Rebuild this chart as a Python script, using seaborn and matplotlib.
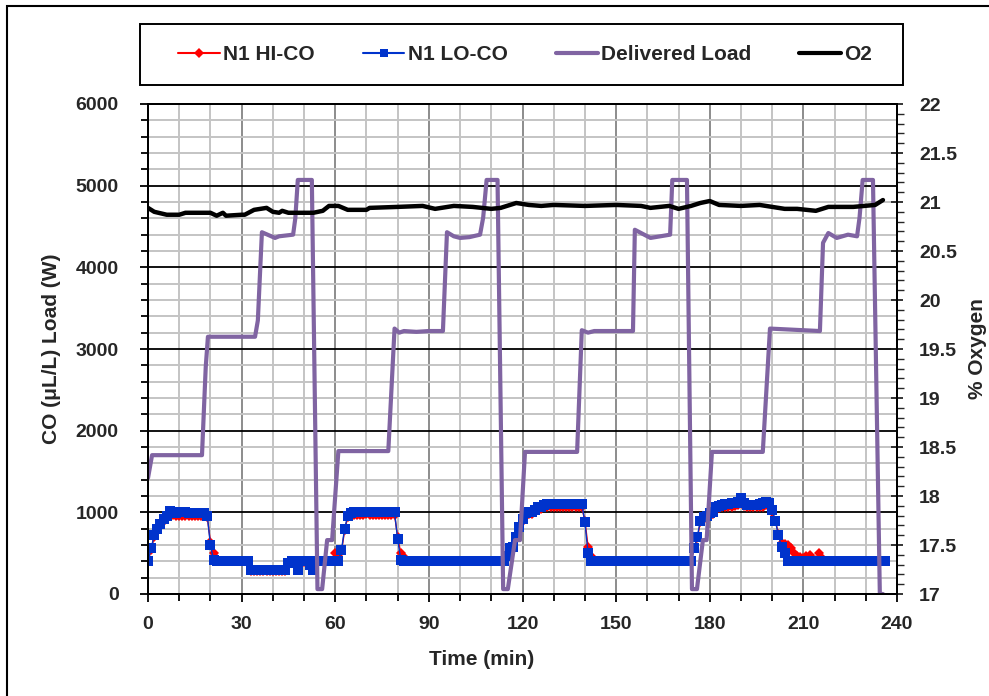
import numpy as np
import pandas as pd
import seaborn as sns
from matplotlib import pyplot as plt
from matplotlib.lines import Line2D
from matplotlib.patches import Rectangle
from matplotlib.ticker import MultipleLocator, FuncFormatter

# CO readings, one per minute (t = 0 .. 236)
co_minutes = np.arange(237)
lo_co = [
    400, 560, 720, 800, 860, 920, 960, 1020, 1010, 990,
    1000, 1000, 1000, 990, 990, 990, 990, 990, 990, 960,
    600, 420, 400, 400, 400, 400, 400, 400, 400, 400,
    400, 400, 400, 290, 290, 290, 290, 290, 290, 290,
    290, 290, 290, 290, 290, 380, 400, 400, 300, 400,
    400, 400, 350, 300, 400, 400, 400, 400, 400, 400,
    400, 400, 540, 800, 960, 990, 1000, 1000, 1000, 1000,
    1010, 1000, 1000, 1000, 1000, 1000, 1000, 1000, 1000, 1000,
    670, 420, 400, 400, 400, 400, 400, 400, 400, 400,
    400, 400, 400, 400, 400, 400, 400, 400, 400, 400,
    400, 400, 400, 400, 400, 400, 400, 400, 400, 400,
    400, 400, 400, 400, 400, 460, 560, 580, 700, 820,
    920, 990, 1000, 1000, 1030, 1060, 1070, 1090, 1100, 1100,
    1100, 1100, 1100, 1100, 1100, 1100, 1100, 1100, 1100, 1100,
    880, 500, 400, 400, 400, 400, 400, 400, 400, 400,
    400, 400, 400, 400, 400, 400, 400, 400, 400, 400,
    400, 400, 400, 400, 400, 400, 400, 400, 400, 400,
    400, 400, 400, 400, 400, 560, 700, 900, 940, 960,
    990, 1000, 1070, 1080, 1090, 1100, 1100, 1110, 1110, 1130,
    1170, 1110, 1090, 1090, 1090, 1090, 1100, 1110, 1130, 1110,
    1030, 900, 720, 580, 500, 400, 400, 400, 400, 400,
    400, 400, 400, 400, 400, 400, 400, 400, 400, 400,
    400, 400, 400, 400, 400, 400, 400, 400, 400, 400,
    400, 400, 400, 400, 400, 400, 400,
]
hi_co = [
    400, 540, 700, 780, 840, 900, 940, 980, 970, 960,
    960, 960, 960, 960, 960, 960, 960, 960, 960, 940,
    640, 500, 430, 400, 400, 400, 400, 400, 400, 400,
    400, 400, 400, 280, 280, 280, 280, 280, 280, 280,
    280, 280, 280, 280, 280, 370, 390, 390, 300, 390,
    390, 390, 350, 300, 390, 400, 400, 400, 400, 400,
    500, 440, 520, 780, 940, 960, 970, 970, 970, 970,
    980, 970, 970, 970, 970, 970, 970, 970, 970, 970,
    700, 500, 450, 400, 400, 400, 400, 400, 400, 400,
    400, 400, 400, 400, 400, 400, 400, 400, 400, 400,
    400, 400, 400, 400, 400, 400, 400, 400, 400, 400,
    400, 400, 400, 400, 400, 480, 580, 600, 700, 800,
    900, 960, 980, 980, 1000, 1030, 1040, 1060, 1060, 1060,
    1060, 1060, 1060, 1060, 1060, 1060, 1060, 1060, 1060, 1060,
    900, 580, 470, 400, 400, 400, 400, 400, 400, 400,
    400, 400, 400, 400, 400, 400, 400, 400, 400, 400,
    400, 400, 400, 400, 400, 400, 400, 400, 400, 400,
    400, 400, 400, 400, 400, 560, 680, 880, 920, 940,
    960, 980, 1040, 1050, 1060, 1060, 1070, 1070, 1080, 1090,
    1120, 1080, 1060, 1060, 1060, 1060, 1060, 1070, 1090, 1080,
    1010, 900, 740, 620, 610, 600, 560, 500, 470, 450,
    440, 460, 480, 430, 420, 500, 440, 410, 400, 400,
    400, 400, 400, 400, 400, 400, 400, 400, 400, 400,
    400, 400, 400, 400, 400, 400, 400,
]

# delivered load (W), read at the corners of the trace
load_time = [0, 1.3, 17.3, 18.5, 19.2, 34.3, 35.2, 36.5, 40.7, 42, 46.5, 47.2, 48, 52.5,
             54.3, 55.8, 57.4, 59, 61, 77, 79, 80.5, 82, 86, 90, 94.5, 95.8, 98, 100, 103,
             106.4, 107.4, 108.5, 112, 113.8, 115.3, 117.6, 119.2, 120.8, 137.5, 139, 141,
             143, 155.4, 156, 161, 167.3, 168, 172.7, 174.3, 175.9, 177.8, 179, 180.7, 197,
             199.3, 215.3, 216.3, 218, 220.7, 224.3, 227.2, 228, 229, 232.3, 234.5, 235.5]
load_w = [1420, 1700, 1700, 2780, 3150, 3150, 3350, 4430, 4360, 4380, 4400, 4600, 5070, 5070,
          60, 60, 660, 660, 1750, 1750, 3250, 3200, 3220, 3210, 3220, 3220, 4430, 4380, 4360, 4370,
          4400, 4610, 5070, 5070, 60, 60, 660, 660, 1740, 1740, 3230, 3200,
          3220, 3220, 4460, 4360, 4400, 5070, 5070, 60, 60, 660, 660, 1740, 1740,
          3250, 3220, 4300, 4420, 4360, 4400, 4380, 4610, 5070, 5070, 0, 0]

# oxygen (%)
o2_time = [0, 2, 6, 10, 12, 20, 22, 24, 25, 30, 31, 34, 38, 40, 42, 43, 45, 53, 56, 58, 61, 64,
           70, 71, 80, 88, 92, 98, 104, 110, 113, 118, 122, 126, 130, 140, 150, 158, 161, 167,
           170, 174, 177, 180, 183, 190, 196, 200, 204, 208, 214, 218, 226, 233, 235.5]
o2_pct = [20.94, 20.90, 20.87, 20.87, 20.89, 20.89, 20.86, 20.89, 20.86, 20.87, 20.87, 20.92,
          20.94, 20.90, 20.89, 20.91, 20.89, 20.89, 20.91, 20.96, 20.96, 20.92, 20.92, 20.94,
          20.95, 20.96, 20.93, 20.96, 20.95, 20.93, 20.94, 20.99, 20.97, 20.96, 20.97, 20.96,
          20.97, 20.96, 20.94, 20.96, 20.93, 20.96, 20.99, 21.01, 20.97, 20.96, 20.97, 20.95,
          20.93, 20.93, 20.91, 20.95, 20.95, 20.97, 21.02]

RED = "#FF0000"
BLUE = "#0033CC"
PURPLE = "#8064A2"
TICK_FS = 14
LABEL_FS = 15

co_df = pd.DataFrame({"time": co_minutes, "hi": hi_co, "lo": lo_co})
load_df = pd.DataFrame({"time": load_time, "load": load_w})
o2_df = pd.DataFrame({"time": o2_time, "o2": o2_pct})

sns.set_style("white")
plt.rcParams['font.family'] = ['Liberation Sans', 'DejaVu Sans']
plt.rcParams['font.weight'] = 'bold'

fig = plt.figure(figsize=(9.89, 6.96), dpi=100)
ax = fig.add_axes([148 / 989, 1 - 594 / 696, 749 / 989, 490 / 696])

sns.lineplot(data=co_df, x="time", y="hi", ax=ax, color=RED, lw=1, marker="D",
             markersize=5, markeredgewidth=0, zorder=3)
sns.lineplot(data=co_df, x="time", y="lo", ax=ax, color=BLUE, lw=1, marker="s",
             markersize=6.5, markeredgewidth=0, zorder=4)
sns.lineplot(data=load_df, x="time", y="load", ax=ax, color=PURPLE, lw=3, zorder=5)

ax.set_xlim(0, 240)
ax.set_ylim(0, 6000)
ax.xaxis.set_major_locator(MultipleLocator(30))
ax.xaxis.set_minor_locator(MultipleLocator(10))
ax.yaxis.set_major_locator(MultipleLocator(1000))
ax.yaxis.set_minor_locator(MultipleLocator(200))
ax.set_axisbelow(True)
ax.grid(which='minor', axis='both', color='#c4c4c4', lw=1.4)
ax.grid(which='major', axis='x', color='#8c8c8c', lw=1.4)
ax.grid(which='major', axis='y', color='black', lw=1.3)
ax.tick_params(which='both', direction='out', color='black', width=1.3)
ax.tick_params(which='major', length=6, labelsize=TICK_FS)
ax.tick_params(axis='y', which='major', pad=15)
ax.tick_params(axis='x', which='major', pad=10)
ax.tick_params(which='minor', length=5)
ax.tick_params(axis='y', which='both', left=True)
ax.tick_params(axis='x', which='both', bottom=True)
for side in ax.spines:
    ax.spines[side].set_color('black')
    ax.spines[side].set_linewidth(1.4)
for lbl in ax.get_xticklabels() + ax.get_yticklabels():
    lbl.set_fontweight('bold')

ax.set_xlabel("Time (min)", fontsize=LABEL_FS, fontweight='bold')
ax.set_ylabel("CO (μL/L) Load (W)", fontsize=LABEL_FS, fontweight='bold')
ax.xaxis.set_label_coords(0.446, -0.114)
ax.yaxis.set_label_coords(-0.116, 0.5)

ax2 = ax.twinx()
sns.lineplot(data=o2_df, x="time", y="o2", ax=ax2, color='black', lw=3.2)
ax2.set_ylim(17, 22)
ax2.yaxis.set_major_locator(MultipleLocator(0.5))
ax2.yaxis.set_minor_locator(MultipleLocator(0.1))
ax2.yaxis.set_major_formatter(FuncFormatter(lambda v, p: f"{v:g}"))
ax2.tick_params(axis='y', which='major', direction='inout', length=8, width=1.3,
                labelsize=TICK_FS, pad=12, right=True)
ax2.tick_params(axis='y', which='minor', direction='out', length=5, width=1.0, right=True)
for lbl in ax2.get_yticklabels():
    lbl.set_fontweight('bold')
ax2.set_ylabel("% Oxygen", fontsize=LABEL_FS, fontweight='bold')
ax2.yaxis.set_label_coords(1.095, 0.5)
ax2.grid(False)
for side in ax2.spines:
    ax2.spines[side].set_color('black')
    ax2.spines[side].set_linewidth(1.4)

handles = [
    Line2D([], [], color=RED, lw=1.5, marker="D", markersize=5, markeredgewidth=0),
    Line2D([], [], color=BLUE, lw=1.5, marker="s", markersize=6, markeredgewidth=0),
    Line2D([], [], color=PURPLE, lw=3),
    Line2D([], [], color='black', lw=3),
]
labels = ["N1 HI-CO", "N1 LO-CO", "Delivered Load", "O2"]
leg = fig.legend(handles, labels, ncol=4, loc='center', mode='expand',
                 bbox_to_anchor=(178 / 989, 1 - 85 / 696, 694 / 989, 61 / 696),
                 prop={'weight': 'bold', 'size': LABEL_FS}, frameon=False,
                 handlelength=2.0, handletextpad=0.15, borderpad=0,
                 borderaxespad=0, columnspacing=1.5)
# legend box
fig.patches.append(Rectangle((140 / 989, 1 - 85 / 696), 763 / 989, 61 / 696,
                             transform=fig.transFigure, fill=False,
                             edgecolor='black', lw=1.4))

# outer frame of the figure
fig.patches.append(Rectangle((7 / 989, -0.1), 1.1, 1.1 - 6 / 696,
                             transform=fig.transFigure, fill=False,
                             edgecolor='black', lw=1.5))

fig.savefig("out.png", dpi=100)
